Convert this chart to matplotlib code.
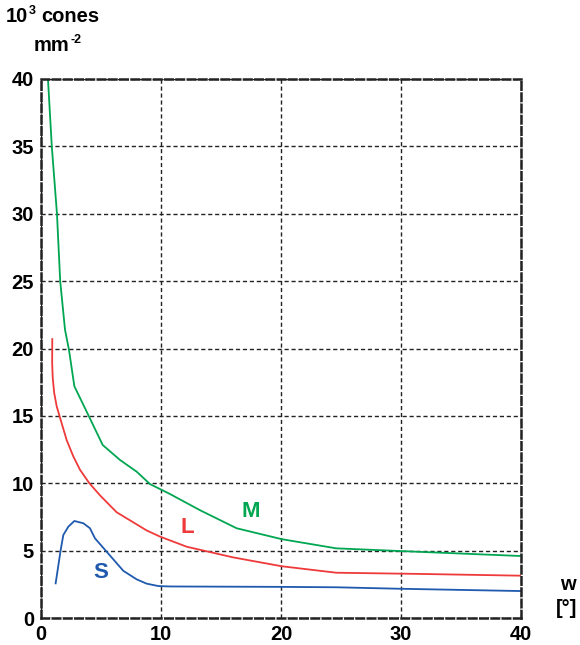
import numpy as np
import matplotlib.pyplot as plt

# cone density (10^3 cones / mm^2) against eccentricity w (deg)
m_w = [0.58, 0.9, 1.33, 1.6, 2.0, 2.33, 2.78, 4.03, 5.14, 6.58, 7.97, 9.08, 10.75,
       13.25, 16.3, 20.06, 24.6, 29.9, 40]
m_d = [40.0, 35.0, 30.0, 25.0, 21.4, 19.9, 17.2, 14.9, 12.84, 11.73, 10.86, 9.94, 9.2,
       8.0, 6.66, 5.85, 5.17, 4.97, 4.6]

l_w = [0.94, 0.93, 0.98, 1.1, 1.31, 1.64, 2.14, 2.69, 3.25, 4.03, 4.92, 6.3, 8.8, 9.92,
       12.14, 16.0, 20.06, 24.6, 31.6, 40]
l_d = [20.7, 18.9, 17.8, 16.7, 15.7, 14.7, 13.2, 12.0, 11.0, 10.0, 9.1, 7.85, 6.5, 6.04,
       5.29, 4.5, 3.84, 3.36, 3.27, 3.14]

s_w = [1.22, 1.64, 1.86, 2.28, 2.78, 3.53, 4.08, 4.5, 5.47, 6.86, 7.97, 8.8, 9.78,
       10.75, 20.06, 24.6, 29.9, 40]
s_d = [2.57, 5.05, 6.16, 6.78, 7.2, 7.03, 6.66, 5.91, 4.92, 3.5, 2.87, 2.55, 2.37,
       2.34, 2.31, 2.28, 2.17, 2.0]

x_ticks = [0, 10, 20, 30, 40]
y_ticks = [0, 5, 10, 15, 20, 25, 30, 35, 40]

green = '#00a651'
red = '#ee3a3a'
blue = '#1f5aae'
dark = '#222222'

plt.rcParams['font.family'] = ['Liberation Sans', 'DejaVu Sans']
plt.rcParams['font.weight'] = 'bold'

W, H = 580, 645
fig = plt.figure(figsize=(W / 100, H / 100), dpi=100)
ax = fig.add_axes([41 / W, 27 / H, 480 / W, 539 / H])

ax.plot(m_w, m_d, color=green, lw=1.3)
ax.plot(l_w, l_d, color=red, lw=1.3)
ax.plot(s_w, s_d, color=blue, lw=1.3)

ax.set_xlim(0, 40)
ax.set_ylim(0, 40)
ax.set_xticks(x_ticks)
ax.set_yticks(y_ticks)
ax.tick_params(length=0, labelsize=14.5, pad=5)
for lab in ax.get_xticklabels() + ax.get_yticklabels():
    lab.set_fontweight('bold')

ax.grid(True, color=dark, linestyle=(0, (3, 2)), linewidth=1.0)
for sp in ax.spines.values():
    sp.set_linestyle((0, (3, 1.5)))
    sp.set_linewidth(1.8)
    sp.set_color(dark)

ax.text(17.5, 7.94, 'M', color=green, fontsize=16, fontweight='bold', ha='center', va='center')
ax.text(12.2, 6.68, 'L', color=red, fontsize=16, fontweight='bold', ha='center', va='center')
ax.text(4.96, 3.38, 'S', color=blue, fontsize=16, fontweight='bold', ha='center', va='center')


def px(x, y):
    return x / W, 1 - y / H


def text_with_sup(x, y, base, sup, tail='', size=14.5):
    # base text, a raised small superscript, then the rest on the same baseline
    r = fig.canvas.get_renderer()
    t = fig.text(*px(x, y), base, fontsize=size, fontweight='bold', va='baseline')
    bb = t.get_window_extent(r)
    s = fig.text((bb.x1 + 0.5) / W, 1 - (y - 8) / H, sup, fontsize=size * 0.62,
                 fontweight='bold', va='baseline')
    if tail:
        sb = s.get_window_extent(r)
        fig.text((sb.x1 + 5) / W, 1 - y / H, tail, fontsize=size, fontweight='bold',
                 va='baseline')


text_with_sup(6, 22, '10', '3', 'cones')
text_with_sup(34, 51, 'mm', '-2')
fig.text(*px(568, 584), 'w', fontsize=14.5, fontweight='bold', ha='center', va='center')
fig.text(*px(567, 608), '[°]', fontsize=14.5, fontweight='bold', ha='center', va='center')

fig.savefig('out.png', dpi=100)
